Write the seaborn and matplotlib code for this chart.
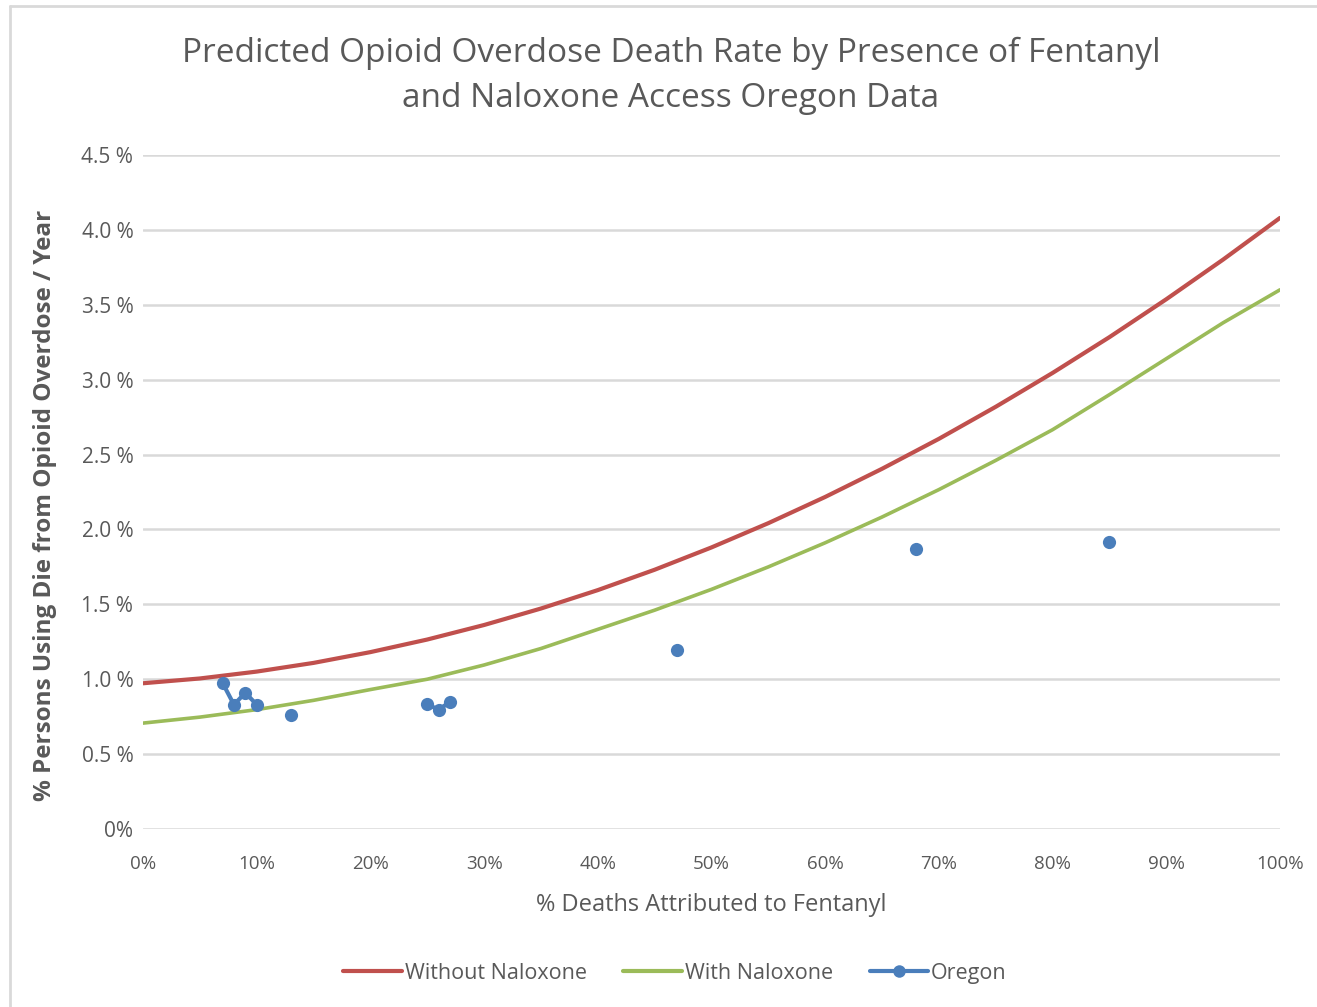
import numpy as np
import pandas as pd
import matplotlib
matplotlib.use("Agg")
import matplotlib.pyplot as plt
from matplotlib.lines import Line2D
import seaborn as sns

# Model curves: % of people using opioids who die per year, by fentanyl share
fentanyl_pct = [0, 5, 10, 15, 20, 25, 30, 35, 40, 45, 50,
                55, 60, 65, 70, 75, 80, 85, 90, 95, 100]
without_naloxone = [0.973, 1.005, 1.051, 1.109, 1.181, 1.265, 1.362, 1.472, 1.595, 1.731, 1.880,
                    2.042, 2.217, 2.405, 2.605, 2.819, 3.045, 3.284, 3.537, 3.802, 4.080]
with_naloxone = [0.707, 0.747, 0.797, 0.859, 0.931, 1.000, 1.095, 1.205, 1.333, 1.461, 1.600,
                 1.750, 1.911, 2.083, 2.266, 2.461, 2.666, 2.900, 3.140, 3.380, 3.600]

# Observed Oregon values
oregon_x = [7, 8, 9, 10, 13, 25, 26, 27, 47, 68, 85]
oregon_y = [0.975, 0.83, 0.91, 0.83, 0.76, 0.835, 0.795, 0.85, 1.195, 1.87, 1.915]

y_ticks = [0, 0.5, 1.0, 1.5, 2.0, 2.5, 3.0, 3.5, 4.0, 4.5]
y_tick_labels = ["0%", "0.5 %", "1.0 %", "1.5 %", "2.0 %", "2.5 %",
                 "3.0 %", "3.5 %", "4.0 %", "4.5 %"]
x_ticks = [0, 10, 20, 30, 40, 50, 60, 70, 80, 90, 100]
x_tick_labels = ["0%", "10%", "20%", "30%", "40%", "50%",
                 "60%", "70%", "80%", "90%", "100%"]

title = "Predicted Opioid Overdose Death Rate by Presence of Fentanyl\nand Naloxone Access Oregon Data"
x_label = "% Deaths Attributed to Fentanyl"
y_label = "% Persons Using Die from Opioid Overdose / Year"
series_names = ["Without Naloxone", "With Naloxone", "Oregon"]

RED = "#C0504D"
GREEN = "#9BBB59"
BLUE = "#4A7EBB"
TEXT = "#595959"
GRID = "#D9D9D9"

sns.set_theme(style="white")
plt.rcParams["font.family"] = ["Open Sans", "DejaVu Sans"]

curves = pd.DataFrame({"x": fentanyl_pct,
                       "without": without_naloxone,
                       "with": with_naloxone})
oregon = pd.DataFrame({"x": oregon_x, "y": oregon_y})
# consecutive years are joined by a line, gaps leave points isolated
oregon["run"] = (oregon["x"].diff() != 1).cumsum()

fig = plt.figure(figsize=(13.17, 10.07), dpi=100)
ax = fig.add_axes([143 / 1317, 1 - 829 / 1007, (1280 - 143) / 1317, (829 - 155) / 1007])

sns.lineplot(data=curves, x="x", y="without", ax=ax, color=RED, linewidth=3.0, zorder=3)
sns.lineplot(data=curves, x="x", y="with", ax=ax, color=GREEN, linewidth=2.6, zorder=3)
sns.lineplot(data=oregon, x="x", y="y", units="run", estimator=None, ax=ax,
             color=BLUE, linewidth=3.0, marker="o", markersize=9.5,
             markeredgewidth=0, zorder=4)

ax.set_xlim(0, 100)
ax.set_ylim(0, 4.5)
ax.set_yticks(y_ticks)
ax.set_yticklabels(y_tick_labels)
ax.set_xticks(x_ticks)
ax.set_xticklabels(x_tick_labels)
ax.grid(axis="y", color=GRID, linewidth=1.8)
ax.grid(axis="x", visible=False)
for s in ax.spines.values():
    s.set_visible(False)
ax.tick_params(axis="y", length=0, pad=7, labelsize=15, labelcolor=TEXT)
ax.tick_params(axis="x", length=0, pad=19, labelsize=13.5, labelcolor=TEXT)

ax.set_xlabel(x_label, fontsize=17, color=TEXT, labelpad=14)
ax.set_ylabel(y_label, fontsize=17.5, color=TEXT, fontweight="bold")
ax.yaxis.set_label_coords(-0.076, 0.48)

fig.text(671 / 1317, 1 - 76 / 1007, title, ha="center", va="center",
         fontsize=24, color=TEXT, linespacing=1.45)

handles = [Line2D([], [], color=RED, linewidth=3.0),
           Line2D([], [], color=GREEN, linewidth=3.0),
           Line2D([], [], color=BLUE, linewidth=3.0, marker="o", markersize=9,
                  markeredgewidth=0)]
fig.legend(handles, series_names, loc="center", bbox_to_anchor=(675 / 1317, 1 - 973 / 1007),
           ncol=3, frameon=False, fontsize=15.5, handlelength=2.7, handletextpad=0.15,
           columnspacing=1.7, labelcolor=TEXT)

# chart-area border
fig.add_artist(Line2D([10 / 1317, 10 / 1317], [0, 1 - 6 / 1007], transform=fig.transFigure,
                      color=GRID, linewidth=2))
fig.add_artist(Line2D([10 / 1317, 1], [1 - 6 / 1007, 1 - 6 / 1007], transform=fig.transFigure,
                      color=GRID, linewidth=2))

fig.savefig("out.png", dpi=100, facecolor="white")
